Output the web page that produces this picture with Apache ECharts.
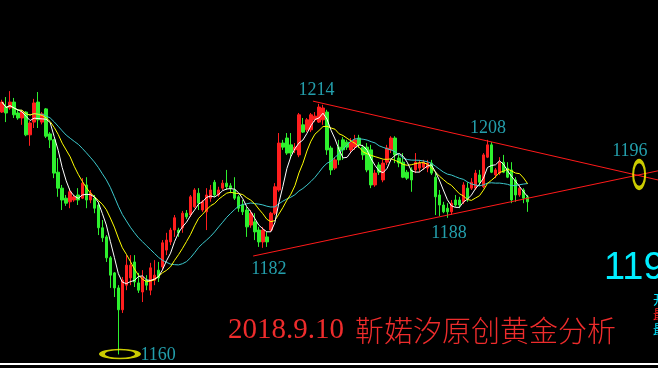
<!DOCTYPE html>
<html>
<head>
<meta charset="utf-8">
<script src="https://cdn.jsdelivr.net/npm/echarts@6/dist/echarts.min.js"></script>
<style>
html,body{margin:0;padding:0;background:#000;}
#c{width:658px;height:368px;}
</style>
</head>
<body>
<div id="c"></div>
<script>
// ---- data (prices) ----
const opens = [1212.7,1213.8,1213.6,1214.9,1212.5,1211.4,1212.7,1207.7,1210.5,1214.9,1210.5,1213.4,1207.9,1206.6,1199.5,1196.0,1193.8,1193.0,1193.4,1194.5,1193.8,1196.7,1193.4,1193.8,1192.3,1187.3,1185.3,1180.7,1177.4,1174.1,1169.3,1174.7,1176.3,1179.8,1175.2,1173.2,1175.8,1173.6,1175.8,1178.0,1178.7,1182.4,1184.2,1186.8,1186.8,1187.3,1190.5,1190.1,1191.9,1194.9,1191.2,1190.8,1193.8,1197.3,1194.5,1196.0,1197.1,1196.5,1195.6,1194.1,1192.3,1191.2,1187.9,1188.6,1186.8,1184.2,1185.3,1186.8,1190.5,1195.6,1205.9,1207.0,1205.5,1204.4,1203.3,1209.9,1208.8,1208.8,1211.0,1210.5,1211.0,1212.7,1204.8,1200.4,1205.0,1206.6,1206.1,1204.4,1205.0,1207.0,1205.0,1205.0,1204.4,1196.7,1201.1,1197.8,1201.7,1204.4,1207.0,1202.6,1201.7,1199.5,1200.0,1200.0,1200.4,1200.6,1200.4,1201.5,1198.4,1194.5,1192.3,1191.6,1190.8,1193.4,1193.4,1193.0,1196.0,1196.0,1196.0,1198.9,1196.3,1202.8,1205.5,1198.9,1199.3,1201.7,1200.4,1200.0,1197.8,1194.5,1195.6,1194.1];
const closes = [1214.9,1212.5,1214.9,1212.1,1211.4,1212.7,1207.7,1210.3,1214.7,1211.0,1212.3,1207.4,1206.6,1199.3,1196.0,1193.4,1192.7,1195.2,1194.1,1193.4,1197.1,1193.4,1194.9,1191.6,1187.3,1185.1,1180.7,1176.9,1174.1,1169.3,1175.8,1179.1,1179.1,1175.4,1173.6,1176.5,1174.7,1178.5,1176.9,1176.3,1184.0,1184.6,1186.8,1189.5,1186.2,1190.5,1189.7,1194.1,1195.6,1192.7,1193.0,1194.5,1195.6,1194.5,1195.6,1197.1,1196.3,1196.0,1193.8,1191.6,1190.8,1187.5,1190.5,1186.4,1184.2,1186.8,1184.2,1190.5,1196.3,1205.9,1205.0,1203.7,1203.7,1205.0,1212.1,1208.3,1211.0,1212.1,1211.8,1213.8,1213.6,1204.4,1200.0,1202.2,1202.2,1204.4,1205.0,1206.1,1206.6,1205.5,1203.3,1200.0,1196.7,1199.3,1199.5,1201.5,1204.8,1207.0,1203.3,1201.5,1198.4,1198.2,1197.8,1201.7,1201.5,1201.7,1201.5,1199.3,1194.1,1192.3,1190.8,1190.8,1192.7,1192.3,1192.3,1196.7,1193.8,1197.3,1199.3,1197.3,1203.3,1205.5,1199.5,1200.0,1201.7,1199.5,1198.4,1193.4,1194.5,1196.0,1193.8,1193.0];
const lows = [1212.5,1210.5,1213.2,1211.4,1211.0,1209.9,1207.4,1205.3,1209.2,1209.2,1210.0,1207.0,1204.8,1198.2,1194.1,1191.2,1192.1,1191.6,1193.0,1192.3,1193.6,1191.6,1192.7,1190.5,1185.7,1184.2,1179.8,1174.1,1172.1,1159.5,1168.6,1173.6,1174.7,1174.3,1173.0,1171.0,1173.6,1172.5,1174.7,1175.4,1178.0,1181.3,1183.5,1185.3,1185.3,1186.2,1189.2,1189.7,1191.6,1191.2,1190.8,1186.8,1193.0,1194.1,1194.1,1195.6,1195.6,1194.9,1193.4,1190.8,1190.1,1185.3,1187.3,1184.6,1183.1,1182.9,1183.1,1186.4,1190.1,1195.2,1204.4,1203.3,1202.6,1203.7,1202.8,1208.1,1208.3,1208.3,1210.5,1210.3,1209.9,1203.3,1198.9,1200.0,1201.1,1202.2,1204.4,1203.9,1204.4,1204.8,1202.2,1199.5,1196.0,1196.3,1198.9,1197.3,1201.1,1203.7,1201.5,1200.6,1198.2,1197.8,1195.2,1199.3,1199.5,1200.0,1199.5,1198.9,1190.1,1189.9,1190.5,1189.5,1190.1,1191.9,1191.6,1192.5,1193.0,1195.6,1195.6,1196.5,1196.0,1202.6,1199.3,1198.2,1198.9,1199.3,1198.2,1192.7,1193.0,1194.1,1192.7,1190.8];
const highs = [1215.4,1216.0,1217.3,1215.8,1213.2,1213.2,1212.9,1210.7,1215.6,1217.1,1212.7,1213.6,1208.3,1206.8,1202.6,1196.7,1194.5,1196.0,1194.5,1196.0,1198.2,1198.4,1195.6,1194.5,1193.0,1189.0,1185.7,1181.1,1177.6,1174.7,1176.5,1181.3,1181.3,1181.3,1177.4,1178.0,1176.9,1179.6,1180.2,1179.8,1184.6,1186.2,1187.3,1190.1,1187.3,1191.0,1191.2,1194.5,1196.0,1196.0,1193.4,1196.0,1196.7,1197.8,1196.3,1197.8,1200.0,1197.1,1198.4,1194.5,1193.4,1191.9,1191.2,1190.5,1187.5,1187.5,1186.4,1190.8,1197.1,1208.1,1206.6,1208.1,1208.1,1205.9,1212.5,1211.4,1211.4,1212.5,1212.7,1214.5,1214.3,1213.2,1205.3,1202.8,1206.6,1207.2,1206.6,1207.0,1207.7,1207.7,1205.5,1205.9,1205.5,1200.0,1201.7,1202.2,1205.5,1207.4,1207.4,1203.3,1203.7,1200.0,1200.6,1203.7,1202.2,1202.2,1202.2,1202.2,1199.3,1195.6,1193.0,1192.7,1193.4,1194.5,1194.1,1197.3,1197.3,1198.2,1200.0,1200.0,1203.7,1206.6,1206.1,1200.4,1202.8,1203.3,1201.7,1201.7,1198.4,1196.7,1196.0,1194.5];

const slotCount = 164;             // chart slots (candles + empty room on the right)
const upperTrend = [[77.5, 1215.1], [163.5, 1197.8]];
const lowerTrend = [[62.6, 1181.1], [163.5, 1199.8]];
const priceNotes = [
  {name:'1214', value:[78.4, 1217.4]},
  {name:'1160', value:[38.9, 1159.3]},
  {name:'1182', value:[66.5, 1178.1]},
  {name:'1188', value:[111.4, 1186.2]},
  {name:'1208', value:[121.1, 1209.2]},
  {name:'1196', value:[156.5, 1204.0]}
];
const rings = [
  {value:[29.4, 1159.6], symbolSize:[36, 9]},
  {value:[158.8, 1199.0], symbolSize:[12, 27]}
];

// ---- build ----
const categories = [];
for (let i = 0; i < slotCount; i++) categories.push(String(i + 1));
const kData = opens.map((o, i) => [o, closes[i], lows[i], highs[i]]);
function ma(n) {
  return closes.map((_, i) => {
    const s = Math.max(0, i - n + 1);
    let sum = 0;
    for (let j = s; j <= i; j++) sum += closes[j];
    return +(sum / (i - s + 1)).toFixed(2);
  });
}

const chart = echarts.init(document.getElementById('c'), null, {renderer: 'canvas'});
chart.setOption({
  animation: false,
  backgroundColor: '#000',
  grid: {left: 0, right: 0, top: 0, bottom: 4},
  xAxis: [
    {type: 'category', data: categories, boundaryGap: true,
     axisLine: {show: true, lineStyle: {color: '#fff', width: 2}},
     axisTick: {show: false}, axisLabel: {show: false}, splitLine: {show: false}},
    {type: 'value', min: -0.5, max: slotCount - 0.5, show: false, splitLine: {show: false}}
  ],
  yAxis: {type: 'value', min: 1157.4, max: 1237.3, show: false, splitLine: {show: false}},
  series: [
    {type: 'candlestick', data: kData, barWidth: 3, z: 2,
     itemStyle: {color: '#ff1e1e', color0: '#2ef02e', borderColor: '#ff1e1e', borderColor0: '#2ef02e', borderWidth: 1}},
    {type: 'line', data: ma(20), symbol: 'none', z: 3, lineStyle: {color: '#3cc8cc', width: 1}},
    {type: 'line', data: ma(10), symbol: 'none', z: 3, lineStyle: {color: '#ffff00', width: 1}},
    {type: 'line', data: ma(5), symbol: 'none', z: 3, lineStyle: {color: '#ffffff', width: 1}},
    {type: 'line', xAxisIndex: 1, data: upperTrend, symbol: 'none', z: 4, lineStyle: {color: '#ff1a1a', width: 1}},
    {type: 'line', xAxisIndex: 1, data: lowerTrend, symbol: 'none', z: 4, lineStyle: {color: '#ff1a1a', width: 1}},
    {type: 'scatter', xAxisIndex: 1, data: rings, symbol: 'circle', z: 5,
     itemStyle: {color: 'rgba(0,0,0,0)', borderColor: '#ffff00', borderWidth: 3}},
    {type: 'scatter', xAxisIndex: 1, data: priceNotes, symbolSize: 0, z: 6,
     label: {show: true, position: 'inside', formatter: '{b}', color: '#2cc6d6',
             fontFamily: 'Liberation Serif', fontSize: 18}}
  ],
  graphic: [
    {type: 'text', left: 228, top: 316, z: 10,
     style: {text: '{d|2018.9.10}{c|靳婼汐原创黄金分析}',
       rich: {
         d: {fontFamily: 'Liberation Serif', fontSize: 29, fill: '#ee2c2c', width: 127, color: '#ee2c2c'},
         c: {fontFamily: 'Noto Sans CJK SC', fontSize: 29, fontWeight: 300, fill: '#ee2c2c', color: '#ee2c2c'}
       }}},
    {type: 'text', left: 604, top: 250, z: 10,
     style: {text: '119', fontFamily: 'Liberation Sans', fontSize: 38, fill: '#00eeff'}},
    {type: 'text', left: 653, top: 293, z: 10,
     style: {text: '开', fontFamily: 'Noto Sans CJK SC', fontSize: 13, fill: '#00e5ff'}},
    {type: 'text', left: 653, top: 308, z: 10,
     style: {text: '最', fontFamily: 'Noto Sans CJK SC', fontSize: 13, fill: '#ff2020'}},
    {type: 'text', left: 653, top: 323, z: 10,
     style: {text: '最', fontFamily: 'Noto Sans CJK SC', fontSize: 13, fill: '#00e5ff'}}
  ]
});
</script>
</body>
</html>
